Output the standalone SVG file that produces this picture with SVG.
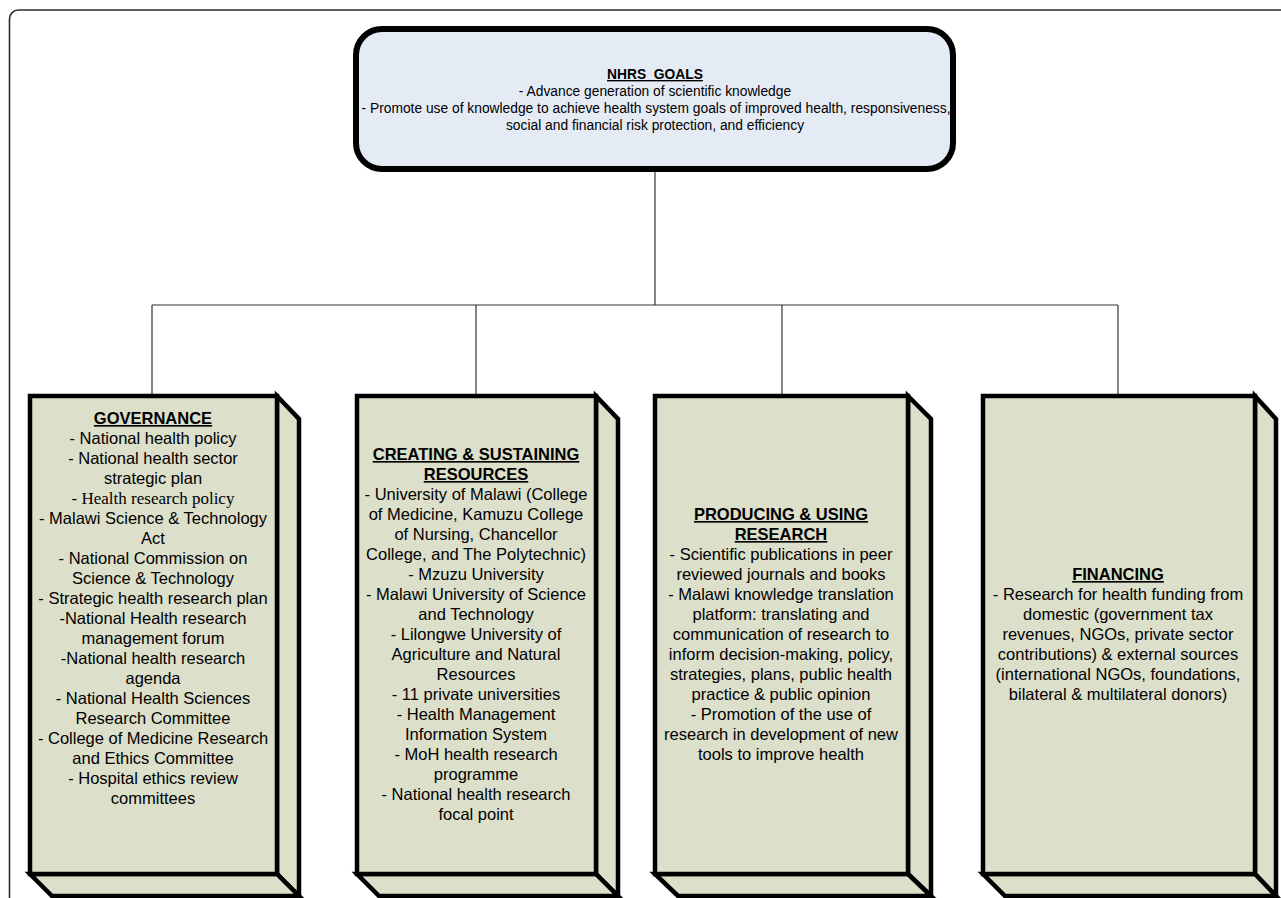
<svg xmlns="http://www.w3.org/2000/svg" width="1281" height="898" viewBox="0 0 1281 898">
<style>
  .frame{fill:#fff;stroke:#2a2a2a;stroke-width:1.6}
  .goal{fill:#e5ebf5;stroke:#000;stroke-width:6}
  .face{fill:#dcdfca;stroke:#000;stroke-width:4.5;stroke-linejoin:miter}
  .conn{fill:none;stroke:#333;stroke-width:1.2}
  text{font-family:"Liberation Sans",Arial,sans-serif;fill:#000;text-anchor:middle}
  .t{font-size:16.5px}
  .h{font-size:16.5px;font-weight:bold;text-decoration:underline}
  .g{font-size:13.8px}
  .gh{font-size:13.8px;font-weight:bold;text-decoration:underline}
  .serif{font-family:"Liberation Serif","Times New Roman",serif;font-size:17px}
</style>
<rect x="0" y="0" width="1281" height="898" fill="#fff"/>
<rect class="frame" x="9.5" y="10" width="1300" height="920" rx="9"/>

<g id="connectors">
  <line class="conn" x1="655" y1="171" x2="655" y2="305"/>
  <line class="conn" x1="152" y1="305" x2="1118" y2="305"/>
  <line class="conn" x1="152" y1="305" x2="152" y2="394"/>
  <line class="conn" x1="476" y1="305" x2="476" y2="394"/>
  <line class="conn" x1="782" y1="305" x2="782" y2="394"/>
  <line class="conn" x1="1118" y1="305" x2="1118" y2="394"/>
</g>

<g id="goals">
  <rect class="goal" x="356" y="29" width="597" height="140" rx="26"/>
  <text class="gh" x="655" y="79">NHRS&#160; GOALS</text>
  <text class="g" x="655" y="96">- Advance generation of scientific knowledge</text>
  <text class="g" x="656" y="113">- Promote use of knowledge to achieve health system goals of improved health, responsiveness,</text>
  <text class="g" x="655" y="130">social and financial risk protection, and efficiency</text>
</g>

<g id="governance">
  <polygon class="face" points="277,396 299,419 299,896 277,874"/>
  <polygon class="face" points="30,874 277,874 299,896 52,896"/>
  <rect class="face" x="30" y="396" width="247" height="478"/>
  <text class="h" x="153" y="424">GOVERNANCE</text>
  <text class="t" x="153" y="444">- National health policy</text>
  <text class="t" x="153" y="464">- National health sector</text>
  <text class="t" x="153" y="484">strategic plan</text>
  <text class="serif" x="153" y="504">- Health research policy</text>
  <text class="t" x="153" y="524">- Malawi Science &amp; Technology</text>
  <text class="t" x="153" y="544">Act</text>
  <text class="t" x="153" y="564">- National Commission on</text>
  <text class="t" x="153" y="584">Science &amp; Technology</text>
  <text class="t" x="153" y="604">- Strategic health research plan</text>
  <text class="t" x="153" y="624">-National Health research</text>
  <text class="t" x="153" y="644">management forum</text>
  <text class="t" x="153" y="664">-National health research</text>
  <text class="t" x="153" y="684">agenda</text>
  <text class="t" x="153" y="704">- National Health Sciences</text>
  <text class="t" x="153" y="724">Research Committee</text>
  <text class="t" x="153" y="744">- College of Medicine Research</text>
  <text class="t" x="153" y="764">and Ethics Committee</text>
  <text class="t" x="153" y="784">- Hospital ethics review</text>
  <text class="t" x="153" y="804">committees</text>
</g>

<g id="resources">
  <polygon class="face" points="596,396 618,419 618,896 596,874"/>
  <polygon class="face" points="357,874 596,874 618,896 379,896"/>
  <rect class="face" x="357" y="396" width="239" height="478"/>
  <text class="h" x="476" y="460">CREATING &amp; SUSTAINING</text>
  <text class="h" x="476" y="480">RESOURCES</text>
  <text class="t" x="476" y="500">- University of Malawi (College</text>
  <text class="t" x="476" y="520">of Medicine, Kamuzu College</text>
  <text class="t" x="476" y="540">of Nursing, Chancellor</text>
  <text class="t" x="476" y="560">College, and The Polytechnic)</text>
  <text class="t" x="476" y="580">- Mzuzu University</text>
  <text class="t" x="476" y="600">- Malawi University of Science</text>
  <text class="t" x="476" y="620">and Technology</text>
  <text class="t" x="476" y="640">- Lilongwe University of</text>
  <text class="t" x="476" y="660">Agriculture and Natural</text>
  <text class="t" x="476" y="680">Resources</text>
  <text class="t" x="476" y="700">- 11 private universities</text>
  <text class="t" x="476" y="720">- Health Management</text>
  <text class="t" x="476" y="740">Information System</text>
  <text class="t" x="476" y="760">- MoH health research</text>
  <text class="t" x="476" y="780">programme</text>
  <text class="t" x="476" y="800">- National health research</text>
  <text class="t" x="476" y="820">focal point</text>
</g>

<g id="research">
  <polygon class="face" points="908,396 931,419 931,896 908,874"/>
  <polygon class="face" points="655,874 908,874 931,896 678,896"/>
  <rect class="face" x="655" y="396" width="253" height="478"/>
  <text class="h" x="781" y="520">PRODUCING &amp; USING</text>
  <text class="h" x="781" y="540">RESEARCH</text>
  <text class="t" x="781" y="560">- Scientific publications in peer</text>
  <text class="t" x="781" y="580">reviewed journals and books</text>
  <text class="t" x="781" y="600">- Malawi knowledge translation</text>
  <text class="t" x="781" y="620">platform: translating and</text>
  <text class="t" x="781" y="640">communication of research to</text>
  <text class="t" x="781" y="660">inform decision-making, policy,</text>
  <text class="t" x="781" y="680">strategies, plans, public health</text>
  <text class="t" x="781" y="700">practice &amp; public opinion</text>
  <text class="t" x="781" y="720">- Promotion of the use of</text>
  <text class="t" x="781" y="740">research in development of new</text>
  <text class="t" x="781" y="760">tools to improve health</text>
</g>

<g id="financing">
  <polygon class="face" points="1255,396 1276,419 1276,896 1255,874"/>
  <polygon class="face" points="983,874 1255,874 1276,896 1005,896"/>
  <rect class="face" x="983" y="396" width="272" height="478"/>
  <text class="h" x="1118" y="580">FINANCING</text>
  <text class="t" x="1118" y="600">- Research for health funding from</text>
  <text class="t" x="1118" y="620">domestic (government tax</text>
  <text class="t" x="1118" y="640">revenues, NGOs, private sector</text>
  <text class="t" x="1118" y="660">contributions) &amp; external sources</text>
  <text class="t" x="1118" y="680">(international NGOs, foundations,</text>
  <text class="t" x="1118" y="700">bilateral &amp; multilateral donors)</text>
</g>
</svg>
